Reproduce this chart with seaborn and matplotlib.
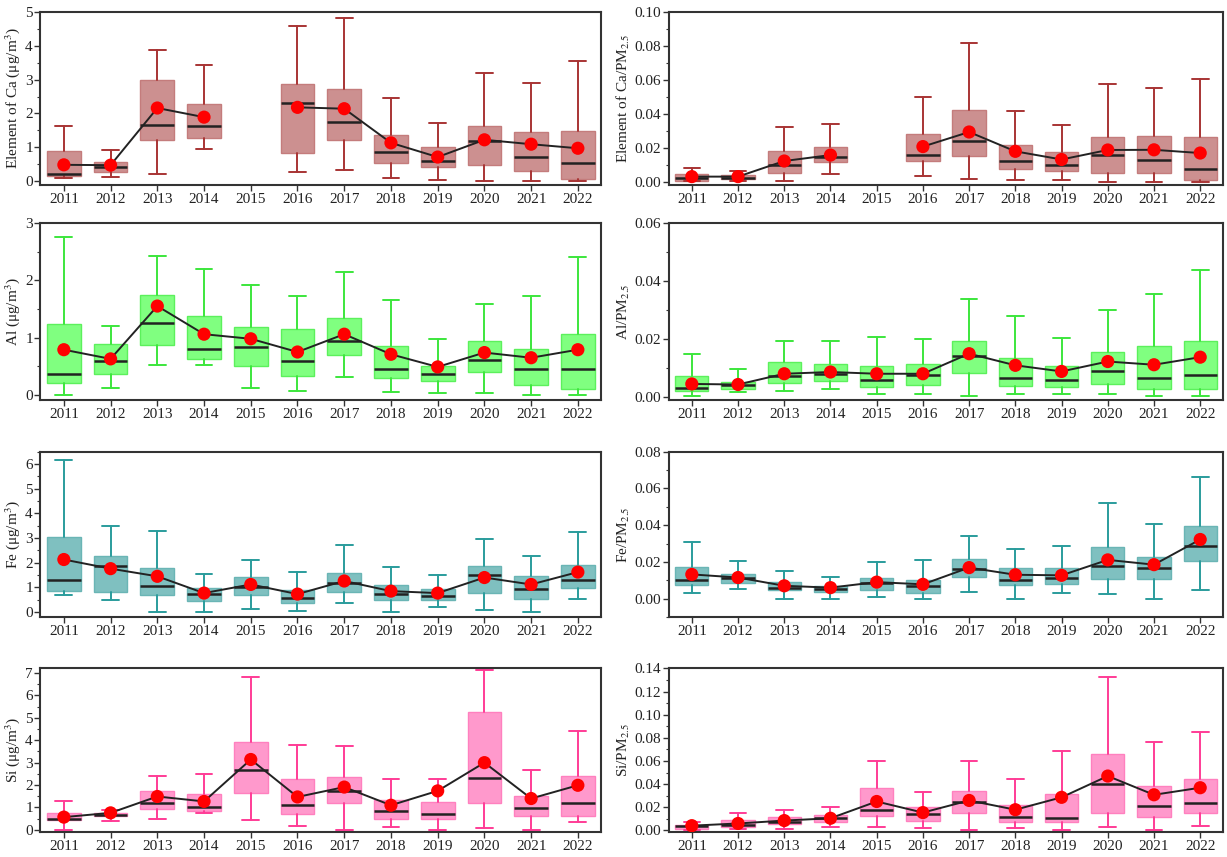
import numpy as np
import pandas as pd
import matplotlib
matplotlib.use("Agg")
import matplotlib.pyplot as plt
import seaborn as sns
from matplotlib.ticker import MultipleLocator, FormatStrFormatter

sns.set_theme(style="ticks")
plt.rcParams["font.family"] = ["Liberation Serif", "DejaVu Serif"]
plt.rcParams["mathtext.fontset"] = "stix"

years = ["2011", "2012", "2013", "2014", "2015", "2016",
         "2017", "2018", "2019", "2020", "2021", "2022"]
nan = np.nan

# ---- Ca (ug/m3) ----
ca_low = [0.10, 0.11, 0.20, 0.96, nan, 0.27, 0.34, 0.10, 0.04, 0.00, 0.00, 0.00]
ca_q1 = [0.15, 0.27, 1.22, 1.28, nan, 0.84, 1.22, 0.53, 0.43, 0.47, 0.30, 0.06]
ca_med = [0.22, 0.42, 1.66, 1.63, nan, 2.31, 1.74, 0.85, 0.58, 1.17, 0.72, 0.54]
ca_q3 = [0.88, 0.57, 3.00, 2.28, nan, 2.87, 2.71, 1.36, 1.00, 1.62, 1.45, 1.48]
ca_high = [1.62, 0.92, 3.88, 3.44, nan, 4.59, 4.81, 2.45, 1.72, 3.21, 2.91, 3.55]
ca_mean = [0.48, 0.47, 2.16, 1.89, nan, 2.18, 2.14, 1.13, 0.71, 1.22, 1.09, 0.97]

# ---- Ca / PM2.5 ----
cap_low = [0.0002, 0.0006, 0.0006, 0.0046, nan, 0.0036, 0.0016, 0.0012, 0.0012, 0.0001, 0.0001, 0.0001]
cap_q1 = [0.0003, 0.0014, 0.0054, 0.0114, nan, 0.0120, 0.0149, 0.0074, 0.0066, 0.0050, 0.0050, 0.0012]
cap_med = [0.0020, 0.0024, 0.0096, 0.0147, nan, 0.0159, 0.0241, 0.0122, 0.0096, 0.0155, 0.0130, 0.0076]
cap_q3 = [0.0046, 0.0038, 0.0183, 0.0207, nan, 0.0281, 0.0422, 0.0215, 0.0175, 0.0263, 0.0271, 0.0263]
cap_high = [0.0082, 0.0066, 0.0323, 0.0340, nan, 0.0498, 0.0815, 0.0418, 0.0335, 0.0578, 0.0552, 0.0603]
cap_mean = [0.0030, 0.0030, 0.0122, 0.0157, nan, 0.0207, 0.0293, 0.0179, 0.0131, 0.0187, 0.0188, 0.0169]

# ---- Al (ug/m3) ----
al_low = [0.00, 0.12, 0.52, 0.52, 0.12, 0.07, 0.32, 0.06, 0.04, 0.03, 0.00, 0.00]
al_q1 = [0.21, 0.36, 0.87, 0.62, 0.51, 0.34, 0.69, 0.30, 0.25, 0.41, 0.17, 0.11]
al_med = [0.36, 0.60, 1.26, 0.80, 0.84, 0.59, 0.94, 0.46, 0.37, 0.61, 0.45, 0.46]
al_q3 = [1.24, 0.89, 1.75, 1.38, 1.18, 1.15, 1.34, 0.85, 0.50, 0.95, 0.80, 1.07]
al_high = [2.75, 1.21, 2.43, 2.20, 1.91, 1.73, 2.14, 1.65, 0.98, 1.59, 1.73, 2.41]
al_mean = [0.79, 0.63, 1.55, 1.06, 0.98, 0.75, 1.06, 0.71, 0.49, 0.74, 0.65, 0.79]

# ---- Al / PM2.5 ----
alp_low = [0.0004, 0.0018, 0.0021, 0.0028, 0.0011, 0.0011, 0.0003, 0.0013, 0.0010, 0.0013, 0.0003, 0.0003]
alp_q1 = [0.0020, 0.0027, 0.0048, 0.0057, 0.0037, 0.0044, 0.0085, 0.0040, 0.0037, 0.0045, 0.0030, 0.0028]
alp_med = [0.0031, 0.0043, 0.0072, 0.0080, 0.0060, 0.0077, 0.0143, 0.0066, 0.0059, 0.0090, 0.0068, 0.0078]
alp_q3 = [0.0072, 0.0052, 0.0123, 0.0113, 0.0109, 0.0113, 0.0193, 0.0136, 0.0106, 0.0156, 0.0175, 0.0193]
alp_high = [0.0150, 0.0098, 0.0193, 0.0195, 0.0208, 0.0202, 0.0337, 0.0278, 0.0205, 0.0299, 0.0355, 0.0437]
alp_mean = [0.0046, 0.0044, 0.0081, 0.0087, 0.0081, 0.0081, 0.0150, 0.0110, 0.0089, 0.0123, 0.0112, 0.0138]

# ---- Fe (ug/m3) ----
fe_low = [0.68, 0.50, 0.00, 0.00, 0.13, 0.03, 0.38, 0.00, 0.20, 0.10, 0.00, 0.53]
fe_q1 = [0.85, 0.80, 0.68, 0.44, 0.70, 0.35, 0.80, 0.50, 0.48, 0.76, 0.53, 0.96]
fe_med = [1.30, 1.86, 1.06, 0.74, 1.03, 0.57, 1.17, 0.74, 0.65, 1.49, 0.94, 1.30]
fe_q3 = [3.05, 2.26, 1.80, 0.99, 1.41, 0.89, 1.60, 1.10, 0.95, 1.88, 1.45, 1.90]
fe_high = [6.18, 3.47, 3.30, 1.56, 2.10, 1.64, 2.70, 1.83, 1.51, 2.95, 2.27, 3.23]
fe_mean = [2.13, 1.76, 1.45, 0.77, 1.12, 0.73, 1.26, 0.85, 0.77, 1.40, 1.12, 1.62]

# ---- Fe / PM2.5 ----
fep_low = [0.0032, 0.0051, 0.0000, 0.0000, 0.0010, 0.0000, 0.0035, 0.0000, 0.0030, 0.0023, 0.0000, 0.0048]
fep_q1 = [0.0074, 0.0086, 0.0046, 0.0035, 0.0046, 0.0033, 0.0116, 0.0074, 0.0078, 0.0106, 0.0106, 0.0204]
fep_med = [0.0100, 0.0110, 0.0058, 0.0055, 0.0085, 0.0070, 0.0164, 0.0100, 0.0110, 0.0180, 0.0166, 0.0284]
fep_q3 = [0.0174, 0.0136, 0.0093, 0.0070, 0.0113, 0.0104, 0.0215, 0.0167, 0.0168, 0.0280, 0.0227, 0.0395]
fep_high = [0.0307, 0.0203, 0.0153, 0.0118, 0.0199, 0.0208, 0.0340, 0.0268, 0.0284, 0.0518, 0.0405, 0.0661]
fep_mean = [0.0132, 0.0115, 0.0070, 0.0060, 0.0090, 0.0078, 0.0169, 0.0130, 0.0127, 0.0211, 0.0185, 0.0322]

# ---- Si (ug/m3) ----
si_low = [0.01, 0.41, 0.48, 0.77, 0.45, 0.17, 0.00, 0.14, 0.00, 0.10, 0.00, 0.35]
si_q1 = [0.42, 0.60, 0.92, 0.85, 1.64, 0.69, 1.20, 0.50, 0.48, 1.21, 0.63, 0.64]
si_med = [0.49, 0.66, 1.20, 1.04, 2.69, 1.11, 1.74, 0.84, 0.71, 2.32, 0.98, 1.22]
si_q3 = [0.77, 0.74, 1.73, 1.61, 3.90, 2.29, 2.35, 1.32, 1.26, 5.25, 1.51, 2.42]
si_high = [1.28, 0.90, 2.42, 2.48, 6.84, 3.80, 3.74, 2.25, 2.28, 7.15, 2.68, 4.41]
si_mean = [0.57, 0.76, 1.49, 1.27, 3.14, 1.47, 1.91, 1.10, 1.74, 3.00, 1.40, 1.99]

# ---- Si / PM2.5 ----
sip_low = [0.0005, 0.0010, 0.0015, 0.0033, 0.0033, 0.0022, 0.0000, 0.0025, 0.0000, 0.0030, 0.0000, 0.0036]
sip_q1 = [0.0014, 0.0030, 0.0055, 0.0074, 0.0121, 0.0085, 0.0149, 0.0074, 0.0074, 0.0154, 0.0116, 0.0149]
sip_med = [0.0036, 0.0050, 0.0074, 0.0105, 0.0176, 0.0138, 0.0248, 0.0118, 0.0110, 0.0402, 0.0209, 0.0239]
sip_q3 = [0.0050, 0.0090, 0.0116, 0.0132, 0.0366, 0.0204, 0.0344, 0.0223, 0.0319, 0.0657, 0.0380, 0.0443]
sip_high = [0.0074, 0.0149, 0.0179, 0.0200, 0.0602, 0.0336, 0.0602, 0.0446, 0.0688, 0.1323, 0.0767, 0.0853]
sip_mean = [0.0041, 0.0060, 0.0085, 0.0105, 0.0250, 0.0154, 0.0259, 0.0179, 0.0286, 0.0470, 0.0308, 0.0369]

# colours: (box fill, box edge, whisker)
pal_ca = ("#CC9090", "#C47C7C", "#A83434")
pal_al = ("#80FF80", "#5CF05C", "#3CE63C")
pal_fe = ("#7FC0C0", "#6AB5B5", "#2A9C9C")
pal_si = ("#FF99CC", "#FF80BF", "#FF3C96")

fig = plt.figure(figsize=(12.27, 8.57), dpi=100)

lefts = [0.033, 0.545]
width_l = 0.457
width_r = 0.452
rows = [(0.784, 0.202), (0.533, 0.207), (0.280, 0.193), (0.029, 0.191)]


def draw(ax, low, q1, med, q3, high, mean, pal, ylabel, ylim, major, minor, fmt):
    fill, edge, wc = pal
    stats, pos = [], []
    for i in range(len(years)):
        if np.isnan(med[i]):
            continue
        stats.append(dict(whislo=low[i], q1=q1[i], med=med[i], q3=q3[i],
                          whishi=high[i], mean=mean[i], fliers=[]))
        pos.append(i)
    ax.bxp(stats, positions=pos, widths=0.72, capwidths=0.36,
           patch_artist=True, showfliers=False, showmeans=False,
           boxprops=dict(facecolor=fill, edgecolor=edge, linewidth=1.0),
           whiskerprops=dict(color=wc, linewidth=1.4),
           capprops=dict(color=wc, linewidth=1.4),
           medianprops=dict(color="#222222", linewidth=1.8))
    seg, s = [], 0
    for v in mean:
        if np.isnan(v):
            s += 1
        seg.append(s)
    df = pd.DataFrame({"pos": range(len(years)), "mean": mean, "seg": seg}).dropna()
    sns.lineplot(data=df, x="pos", y="mean", units="seg", estimator=None,
                 color="#222222", linewidth=1.4, ax=ax, legend=False, zorder=3)
    sns.scatterplot(data=df, x="pos", y="mean", color="#FF0000", s=90,
                    edgecolor="none", ax=ax, legend=False, zorder=4)
    ax.set_xticks(range(len(years)))
    ax.set_xticklabels(years)
    ax.set_xlim(-0.5, len(years) - 0.5)
    ax.set_ylim(*ylim)
    ax.yaxis.set_major_locator(MultipleLocator(major))
    ax.yaxis.set_minor_locator(MultipleLocator(minor))
    ax.yaxis.set_major_formatter(FormatStrFormatter(fmt))
    ax.set_xlabel("")
    ax.set_ylabel(ylabel, fontsize=11, color="#222222", labelpad=2)
    for sp in ax.spines.values():
        sp.set_visible(True)
        sp.set_color("#333333")
        sp.set_linewidth(1.5)
    ax.tick_params(axis="both", which="major", direction="out", length=4,
                   width=1, color="#333333", labelsize=11, labelcolor="#222222", pad=1.5)
    ax.tick_params(axis="y", which="minor", direction="out", length=2, width=0.8, color="#333333")


panels = [
    (0, 0, (ca_low, ca_q1, ca_med, ca_q3, ca_high, ca_mean), pal_ca,
     "Element of Ca (μg/m$^3$)", (-0.12, 5.0), 1, 0.5, "%d"),
    (0, 1, (cap_low, cap_q1, cap_med, cap_q3, cap_high, cap_mean), pal_ca,
     "Element of Ca/PM$_{2.5}$", (-0.002, 0.10), 0.02, 0.01, "%.2f"),
    (1, 0, (al_low, al_q1, al_med, al_q3, al_high, al_mean), pal_al,
     "Al (μg/m$^3$)", (-0.09, 3.0), 1, 0.5, "%d"),
    (1, 1, (alp_low, alp_q1, alp_med, alp_q3, alp_high, alp_mean), pal_al,
     "Al/PM$_{2.5}$", (-0.001, 0.06), 0.02, 0.01, "%.2f"),
    (2, 0, (fe_low, fe_q1, fe_med, fe_q3, fe_high, fe_mean), pal_fe,
     "Fe (μg/m$^3$)", (-0.2, 6.5), 1, 0.5, "%d"),
    (2, 1, (fep_low, fep_q1, fep_med, fep_q3, fep_high, fep_mean), pal_fe,
     "Fe/PM$_{2.5}$", (-0.01, 0.08), 0.02, 0.01, "%.2f"),
    (3, 0, (si_low, si_q1, si_med, si_q3, si_high, si_mean), pal_si,
     "Si (μg/m$^3$)", (-0.1, 7.2), 1, 0.5, "%d"),
    (3, 1, (sip_low, sip_q1, sip_med, sip_q3, sip_high, sip_mean), pal_si,
     "Si/PM$_{2.5}$", (-0.0015, 0.14), 0.02, 0.01, "%.2f"),
]

for r, c, arrs, pal, ylabel, ylim, major, minor, fmt in panels:
    b, h = rows[r]
    ax = fig.add_axes([lefts[c], b, width_l if c == 0 else width_r, h])
    draw(ax, *arrs, pal, ylabel, ylim, major, minor, fmt)

fig.savefig("out.png", dpi=100)
